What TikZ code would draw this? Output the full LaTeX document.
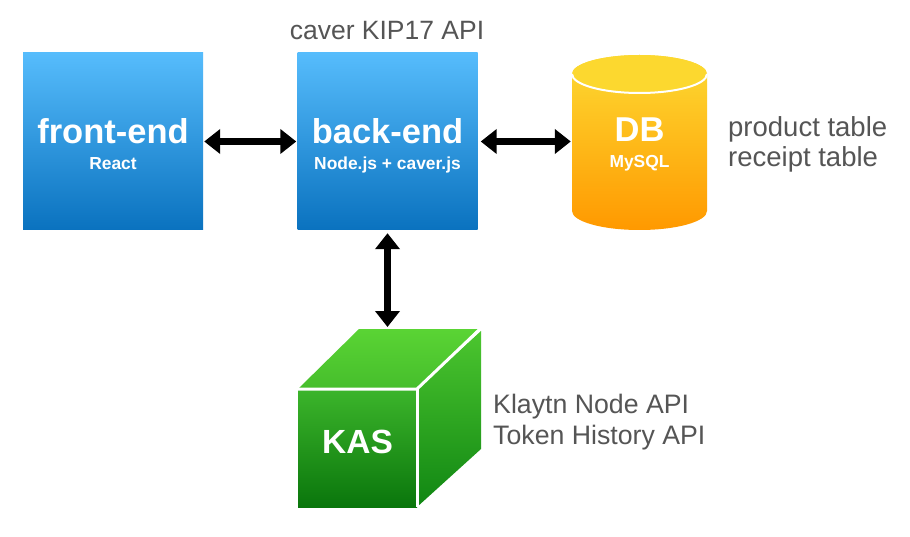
\documentclass[tikz,border=0pt]{standalone}
\usepackage{fontspec}
\setmainfont{Liberation Sans}
\usetikzlibrary{arrows.meta}
\definecolor{blueTop}{HTML}{56BCFC}
\definecolor{blueBot}{HTML}{0A72BF}
\definecolor{yelTop}{HTML}{FDDA33}
\definecolor{yelBot}{HTML}{FF9900}
\definecolor{capCol}{HTML}{FCD82F}
\definecolor{frTop}{HTML}{3CB52B}
\definecolor{frBot}{HTML}{0A760C}
\definecolor{tpTop}{HTML}{5AD434}
\definecolor{tpBot}{HTML}{46BE2C}
\definecolor{rtTop}{HTML}{4CC62F}
\definecolor{rtBot}{HTML}{108613}
\definecolor{noteGray}{HTML}{555555}
\tikzset{
  box/.style={top color=blueTop, bottom color=blueBot, minimum width=180pt, minimum height=177pt, inner sep=0pt, draw=none},
  bigtxt/.style={text=white, font=\fontsize{34.5}{38}\selectfont\bfseries, inner sep=0pt, anchor=base},
  subtxt/.style={text=white, font=\fontsize{17.4}{20}\selectfont\bfseries, inner sep=0pt, anchor=base},
  note/.style={text=noteGray, inner sep=0pt},
  dbl/.style={{Triangle[length=16pt,width=24pt]}-{Triangle[length=16pt,width=24pt]}, line width=6.5pt, black},
}
\begin{document}
\begin{tikzpicture}[x=1pt,y=-1pt]
\useasboundingbox[fill=white] (0,0) rectangle (910,537);

% front-end
\node[box] (fe) at (113,141.5) {};
\node[bigtxt] (fet) at (113,144) {front-end};
\node[subtxt] (fes) at (113,170) {React};

% back-end
\node[box] (be) at (387.5,141.5) {};
\node[bigtxt] (bet) at (387.5,144) {back-end};
\node[subtxt] (bes) at (387.5,170) {Node.js + caver.js};
\node[note, anchor=base, font=\fontsize{26.5}{29}\selectfont] (api) at (387,40) {caver KIP17 API};

% DB cylinder
\shade[top color=yelTop, bottom color=yelBot]
  (572,74) -- (572,211) arc[start angle=180,end angle=360,x radius=67.5pt,y radius=19pt]
  -- (707,74) arc[start angle=0,end angle=180,x radius=67.5pt,y radius=19pt] -- cycle;
\fill[capCol] (639.5,74) ellipse[x radius=67.5pt,y radius=19pt];
\draw[white, line width=2pt] (572,74) arc[start angle=180,end angle=360,x radius=67.5pt,y radius=19pt];
\node[minimum width=135pt, minimum height=176pt, inner sep=0pt] (db) at (639.5,141.5) {};
\node[bigtxt] (dbt) at (639.5,142) {DB};
\node[subtxt] (dbs) at (639.5,168) {MySQL};
\node[note, anchor=base west, font=\fontsize{27.5}{30}\selectfont] (pt) at (728,137) {product table};
\node[note, anchor=base west, font=\fontsize{27.5}{30}\selectfont] (rt) at (728,167) {receipt table};

% KAS cube
\shade[top color=tpTop, bottom color=tpBot] (298,389) -- (359,329) -- (478,329) -- (417,389) -- cycle;
\shade[top color=rtTop, bottom color=rtBot] (417,389) -- (481,331) -- (481,449) -- (417,507) -- cycle;
\shade[top color=frTop, bottom color=frBot] (298,389) rectangle (417,507);
\draw[white, line width=3pt] (298,389) -- (417,389) -- (480,329);
\draw[white, line width=3pt] (417,389) -- (417,507);
\node[minimum width=119pt, minimum height=118pt, inner sep=0pt] (kas) at (357.5,448) {};
\coordinate (kastop) at (387.5,329);
\node[bigtxt, font=\fontsize{33.5}{37}\selectfont\bfseries] (kast) at (357.5,453) {KAS};
\node[note, anchor=base west, font=\fontsize{26.7}{30}\selectfont] (kn) at (493,413) {Klaytn Node API};
\node[note, anchor=base west, font=\fontsize{26.7}{30}\selectfont] (th) at (493,444) {Token History API};

% connectors
\draw[dbl, shorten <=1pt, shorten >=1pt] (fe.east) -- (be.west);
\draw[dbl, shorten <=3pt, shorten >=1pt] (be.east) -- (db.west);
\draw[dbl, shorten <=3pt, shorten >=2pt] (be.south) -- (kastop);
\end{tikzpicture}
\end{document}
